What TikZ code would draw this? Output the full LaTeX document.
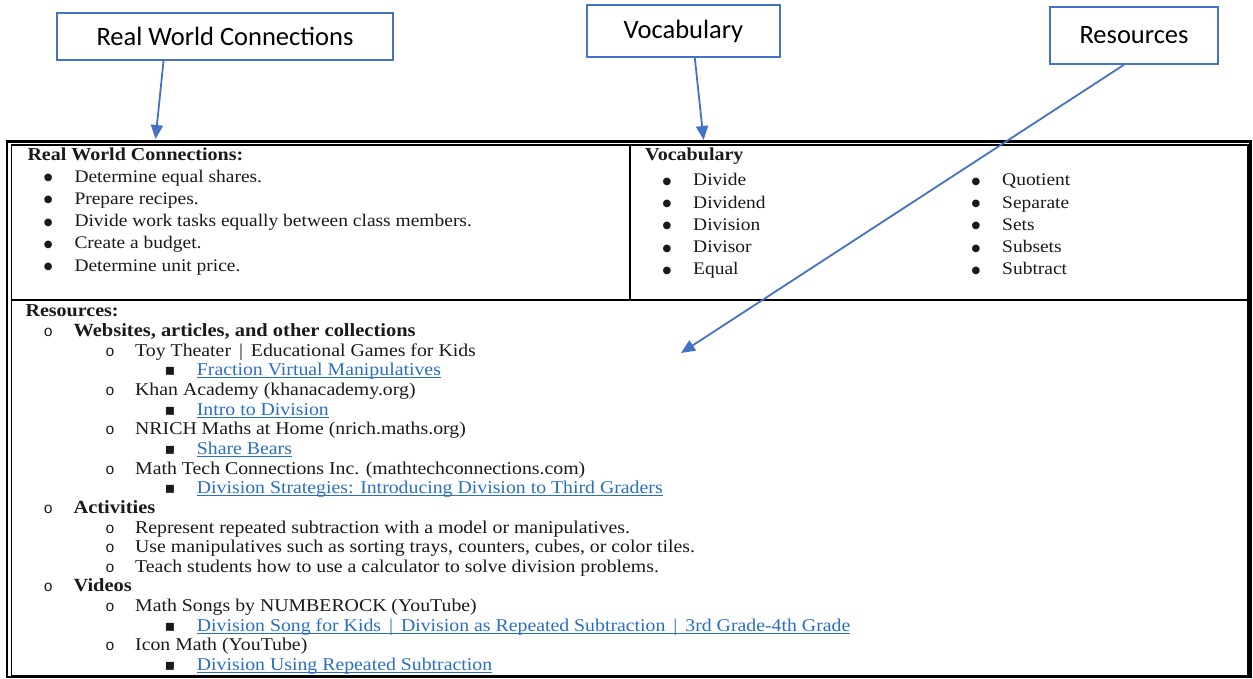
\documentclass[tikz,border=0pt]{standalone}
\usepackage{fontspec}
\setmainfont{Liberation Serif}[FakeStretch=1.1]
\newfontfamily\calfont{Carlito}
\newfontfamily\bulmono{Liberation Mono}
\newfontfamily\bulsym{DejaVu Sans}
\newcommand\ulk[1]{\setbox0\hbox{#1}\rlap{\rule[-2.4pt]{\wd0}{0.9pt}}\box0}
\newcommand\vbar{\kern3pt|\kern3pt}
\usetikzlibrary{arrows.meta,calc}
\definecolor{callblue}{HTML}{4472C4}
\definecolor{linkblue}{HTML}{2A6FC4}
\definecolor{ink}{HTML}{1A1A1A}
\begin{document}
\begin{tikzpicture}[x=1pt,y=-1pt,
  callout/.style={draw=callblue,line width=1.8pt,fill=white,inner sep=0pt,text=black,font=\calfont\fontsize{26.5}{30}\selectfont},
  arr/.style={draw=callblue,line width=1.8pt,-{Triangle[length=14pt,width=12pt]}},
  txt/.style={anchor=base west,inner sep=0pt,text=ink,font=\fontsize{17.7}{20}\selectfont},
  txtb/.style={anchor=base west,inner sep=0pt,text=ink,font=\fontsize{18}{20}\selectfont},
  hdr/.style={anchor=base west,inner sep=0pt,text=ink,font=\bfseries\fontsize{18.2}{20}\selectfont},
  hdrb/.style={anchor=base west,inner sep=0pt,text=ink,font=\bfseries\fontsize{18.6}{20}\selectfont},
  lnk/.style={anchor=base west,inner sep=0pt,text=linkblue,font=\fontsize{18}{20}\selectfont},
  bul/.style={anchor=base,inner sep=0pt,text=ink,yshift=1.5pt,font=\bulsym\fontsize{10}{11}\selectfont},
  circ/.style={anchor=base,inner sep=0pt,text=ink,font=\bulmono\fontsize{15.5}{17}\selectfont},
  sq/.style={anchor=base,inner sep=0pt,text=ink,font=\bulsym\fontsize{16}{17}\selectfont},
  tline/.style={draw=black,line width=2pt}
]
\useasboundingbox (0,0) rectangle (1253,679);
\fill[white] (0,0) rectangle (1253,679);

% table frame
\draw[tline,line width=2.2pt] (7,141.5) rectangle (1250.5,677);
\draw[tline,line width=1.6pt] (11.5,145) rectangle (1248,675.5);
\draw[tline] (11.5,299.5) -- (1248,299.5);
\draw[tline] (630,145) -- (630,299.5);

% callouts
\node[callout,minimum width=336pt,minimum height=47pt] (rwc) at (225,36.5) {Real World Connections};
\node[callout,minimum width=193pt,minimum height=52pt] (voc) at (683.5,31) {Vocabulary};
\node[callout,minimum width=168pt,minimum height=57pt] (res) at (1134,35.5) {Resources};
\coordinate (rwcT) at (155.5,139);
\coordinate (vocT) at (703.6,140);
\coordinate (resT) at (681,353);
\draw[arr] ($(rwc.south west)!0.318!(rwc.south east)$) -- (rwcT);
\draw[arr] ($(voc.south west)!0.558!(voc.south east)$) -- (vocT);
\draw[arr] ($(res.south west)!0.44!(res.south east)$) -- (resT);

% real world connections cell
\node[hdr] (rwh) at (27.3,160.7) {Real World Connections:};
\node[bul] (rb1) at (48.3,182.3) {●};
\node[txt] (rt1) at (74.3,182.3) {Determine equal shares.};
\node[bul] (rb2) at (48.3,204.5) {●};
\node[txt] (rt2) at (74.3,204.5) {Prepare recipes.};
\node[bul] (rb3) at (48.3,226.7) {●};
\node[txt] (rt3) at (74.3,226.7) {Divide work tasks equally between class members.};
\node[bul] (rb4) at (48.3,248.9) {●};
\node[txt] (rt4) at (74.3,248.9) {Create a budget.};
\node[bul] (rb5) at (48.3,271.1) {●};
\node[txt] (rt5) at (74.3,271.1) {Determine unit price.};

% vocabulary cell
\node[hdr] (vh) at (645,160.7) {Vocabulary};
\node[bul] (vb1) at (667,186) {●};
\node[txt] (vt1) at (693,186) {Divide};
\node[bul] (vb2) at (667,208.2) {●};
\node[txt] (vt2) at (693,208.2) {Dividend};
\node[bul] (vb3) at (667,230.4) {●};
\node[txt] (vt3) at (693,230.4) {Division};
\node[bul] (vb4) at (667,252.6) {●};
\node[txt] (vt4) at (693,252.6) {Divisor};
\node[bul] (vb5) at (667,274.8) {●};
\node[txt] (vt5) at (693,274.8) {Equal};
\node[bul] (wb1) at (976,186) {●};
\node[txt] (wt1) at (1002,186) {Quotient};
\node[bul] (wb2) at (976,208.2) {●};
\node[txt] (wt2) at (1002,208.2) {Separate};
\node[bul] (wb3) at (976,230.4) {●};
\node[txt] (wt3) at (1002,230.4) {Sets};
\node[bul] (wb4) at (976,252.6) {●};
\node[txt] (wt4) at (1002,252.6) {Subsets};
\node[bul] (wb5) at (976,274.8) {●};
\node[txt] (wt5) at (1002,274.8) {Subtract};

% resources cell
\node[hdr] (rh) at (25.4,316.7) {Resources:};
\node[circ] (c1) at (48.3,336.3) {o};
\node[hdrb] (s1) at (73.3,336.3) {Websites, articles, and other collections};
\node[circ] (c2) at (110,356) {o};
\node[txtb] (s2) at (135,356) {Toy Theater \vbar{} Educational Games for Kids};
\node[sq] (q3) at (170,375.6) {▪};
\node[lnk] (s3) at (196.7,375.6) {\ulk{Fraction Virtual Manipulatives}};
\node[circ] (c4) at (110,395.6) {o};
\node[txtb] (s4) at (135,395.6) {Khan Academy (khanacademy.org)};
\node[sq] (q5) at (170,415.2) {▪};
\node[lnk] (s5) at (196.7,415.2) {\ulk{Intro to Division}};
\node[circ] (c6) at (110,434.8) {o};
\node[txtb] (s6) at (135,434.8) {NRICH Maths at Home (nrich.maths.org)};
\node[sq] (q7) at (170,454.4) {▪};
\node[lnk] (s7) at (196.7,454.4) {\ulk{Share Bears}};
\node[circ] (c8) at (110,474.1) {o};
\node[txtb] (s8) at (135,474.1) {Math Tech Connections Inc. (mathtechconnections.com)};
\node[sq] (q9) at (170,493.7) {▪};
\node[lnk] (s9) at (196.7,493.7) {\ulk{Division Strategies: Introducing Division to Third Graders}};
\node[circ] (c10) at (48.3,513.3) {o};
\node[hdrb] (s10) at (73.3,513.3) {Activities};
\node[circ] (c11) at (110,533) {o};
\node[txtb] (s11) at (135,533) {Represent repeated subtraction with a model or manipulatives.};
\node[circ] (c12) at (110,552.6) {o};
\node[txtb] (s12) at (135,552.6) {Use manipulatives such as sorting trays, counters, cubes, or color tiles.};
\node[circ] (c13) at (110,572.2) {o};
\node[txtb] (s13) at (135,572.2) {Teach students how to use a calculator to solve division problems.};
\node[circ] (c14) at (48.3,591.8) {o};
\node[hdrb] (s14) at (73.3,591.8) {Videos};
\node[circ] (c15) at (110,611.5) {o};
\node[txtb] (s15) at (135,611.5) {Math Songs by NUMBEROCK (YouTube)};
\node[sq] (q16) at (170,631.1) {▪};
\node[lnk] (s16) at (196.7,631.1) {\ulk{Division Song for Kids \vbar{} Division as Repeated Subtraction \vbar{} 3rd Grade-4th Grade}};
\node[circ] (c17) at (110,650.7) {o};
\node[txtb] (s17) at (135,650.7) {Icon Math (YouTube)};
\node[sq] (q18) at (170,670.3) {▪};
\node[lnk] (s18) at (196.7,670.3) {\ulk{Division Using Repeated Subtraction}};
\end{tikzpicture}
\end{document}
